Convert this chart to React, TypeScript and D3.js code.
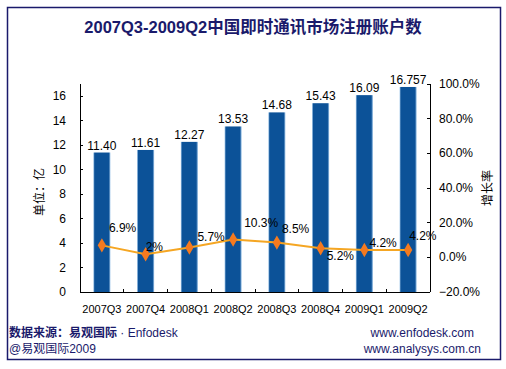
import * as d3 from "d3";

const quarters = ["2007Q3", "2007Q4", "2008Q1", "2008Q2", "2008Q3", "2008Q4", "2009Q1", "2009Q2"];
const accounts = [11.4, 11.61, 12.27, 13.53, 14.68, 15.43, 16.09, 16.757];
const accountLabels = ["11.40", "11.61", "12.27", "13.53", "14.68", "15.43", "16.09", "16.757"];
const growth = [0.069, 0.018, 0.057, 0.103, 0.085, 0.052, 0.042, 0.042];
const growthLabels = ["6.9%", "2%", "5.7%", "10.3%", "8.5%", "5.2%", "4.2%", "4.2%"];
const leftTicks = [0, 2, 4, 6, 8, 10, 12, 14, 16];
const rightTicks = [-0.2, 0, 0.2, 0.4, 0.6, 0.8, 1.0];

// label nudges (px) relative to each marker, as placed in the original
const labelDx = [7, 0, 8, 11, 5, 6, 5, 1];
const labelDy = [-13, -3, -6, -12, -10, 12, -3, -10];

const W = 506;
const H = 369;
const plot = { left: 80, right: 430, top: 84, bottom: 292 };
const FONT = "'Liberation Sans', Arial, 'Noto Sans CJK SC', sans-serif";

export default function App() {
  const x = d3.scaleBand().domain(quarters).range([plot.left, plot.right]).paddingInner(0.61).paddingOuter(0.305);
  const yL = d3.scaleLinear().domain([0, 17]).range([plot.bottom, plot.top]);
  const yR = d3.scaleLinear().domain([-0.2, 1.0]).range([plot.bottom, plot.top]);
  const cx = (q: string) => (x(q) ?? 0) + x.bandwidth() / 2;
  const step = (plot.right - plot.left) / quarters.length;

  const line = d3
    .line<number>()
    .x((_, i) => cx(quarters[i]))
    .y((d) => yR(d));

  const diamond = d3.symbol(d3.symbolDiamond, 60)();
  const pct = d3.format(".1%");

  return (
    <svg width={W} height={H} style={{ position: "absolute", left: 0, top: 0, fontFamily: FONT }}>
      <defs>
        <linearGradient id="barGrad" x1="0" x2="1" y1="0" y2="0">
          <stop offset="0" stopColor="#a3c8ea" />
          <stop offset="0.08" stopColor="#0c5298" />
          <stop offset="0.9" stopColor="#0c5298" />
          <stop offset="1" stopColor="#a3c8ea" />
        </linearGradient>
      </defs>
      <rect x={0} y={0} width={W} height={H} fill="#fff" />
      <rect x={7.5} y={7.5} width={493} height={352} fill="#fff" stroke="#1a1a6b" strokeWidth={1.5} />

      <text x={253} y={33} textAnchor="middle" fontSize={16.5} fontWeight="bold" fill="#1a1a6b">
        2007Q3-2009Q2中国即时通讯市场注册账户数
      </text>

      {/* bars */}
      {accounts.map((v, i) => (
        <rect
          key={quarters[i]}
          x={x(quarters[i])}
          y={yL(v)}
          width={x.bandwidth()}
          height={yL(0) - yL(v)}
          fill="url(#barGrad)"
        />
      ))}
      {accounts.map((v, i) => (
        <text key={"v" + i} x={cx(quarters[i])} y={yL(v) - 3} textAnchor="middle" fontSize={12} fill="#000">
          {accountLabels[i]}
        </text>
      ))}

      {/* axes */}
      <g stroke="#000" strokeWidth={1} shapeRendering="crispEdges">
        <line x1={plot.left} x2={plot.left} y1={plot.top} y2={plot.bottom} />
        <line x1={plot.right} x2={plot.right} y1={plot.top} y2={plot.bottom} />
        <line x1={plot.left} x2={plot.right} y1={plot.bottom} y2={plot.bottom} />
        {leftTicks.map((t) => (
          <line key={"lt" + t} x1={plot.left} x2={plot.left + 3} y1={yL(t)} y2={yL(t)} />
        ))}
        {rightTicks.map((t) => (
          <line key={"rt" + t} x1={plot.right - 3} x2={plot.right} y1={yR(t)} y2={yR(t)} />
        ))}
        {quarters.slice(1).map((q, i) => (
          <line
            key={"bt" + q}
            x1={plot.left + step * (i + 1)}
            x2={plot.left + step * (i + 1)}
            y1={plot.bottom - 3}
            y2={plot.bottom}
          />
        ))}
      </g>
      {leftTicks.map((t) => (
        <text key={"ll" + t} x={66} y={yL(t) + 4} textAnchor="end" fontSize={12} fill="#000">
          {t}
        </text>
      ))}
      {rightTicks.map((t) => (
        <text key={"rl" + t} x={439} y={yR(t) + 4} fontSize={12} fill="#000">
          {pct(t)}
        </text>
      ))}
      {quarters.map((q) => (
        <text key={"c" + q} x={cx(q)} y={313} textAnchor="middle" fontSize={11} fill="#000">
          {q}
        </text>
      ))}

      <text transform="translate(44,192) rotate(-90)" textAnchor="middle" fontSize={12} fill="#000">
        单位：亿
      </text>
      <text transform="translate(492,188) rotate(-90)" textAnchor="middle" fontSize={12} fill="#000">
        增长率
      </text>

      {/* growth line */}
      <path d={line(growth) ?? ""} fill="none" stroke="#f5a623" strokeWidth={2} />
      {growth.map((g, i) => (
        <path
          key={"m" + i}
          d={diamond ?? ""}
          transform={`translate(${cx(quarters[i])},${yR(g)})`}
          fill="#f57a1f"
        />
      ))}
      {growth.map((g, i) => (
        <text
          key={"gl" + i}
          x={cx(quarters[i]) + labelDx[i]}
          y={yR(g) + labelDy[i]}
          fontSize={12}
          fill="#000"
        >
          {growthLabels[i]}
        </text>
      ))}

      {/* footer */}
      <text x={9} y={337} fontSize={12} fill="#1a1a6b">
        <tspan fontWeight="bold">数据来源：易观国际</tspan>
        <tspan> · Enfodesk</tspan>
      </text>
      <text x={9} y={353} fontSize={12} fill="#1a1a6b">
        @易观国际2009
      </text>
      <text x={474} y={337} textAnchor="end" fontSize={12} fill="#1a1a6b">
        www.enfodesk.com
      </text>
      <text x={481} y={353} textAnchor="end" fontSize={12} fill="#1a1a6b">
        www.analysys.com.cn
      </text>
    </svg>
  );
}
